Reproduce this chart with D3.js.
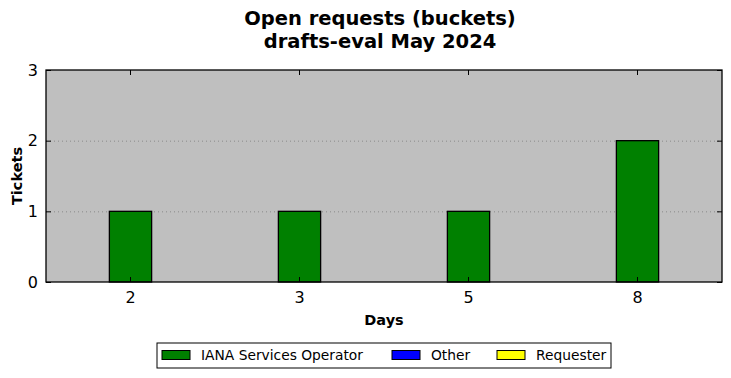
<!DOCTYPE html>
<html>
<head>
<meta charset="utf-8">
<script src="https://cdn.jsdelivr.net/npm/d3@7"></script>
<style>
  body { margin: 0; background: #fff; }
  text { font-family: "DejaVu Sans", sans-serif; }
</style>
</head>
<body>
<script>
// Data
const days = ['2', '3', '5', '8'];
const ianaOperator = [1, 1, 1, 2];
const other = [0, 0, 0, 0];
const requester = [0, 0, 0, 0];
const yTicks = [0, 1, 2, 3];
const seriesNames = ['IANA Services Operator', 'Other', 'Requester'];
const seriesColors = ['#008000', '#0000ff', '#ffff00'];

const width = 731;
const height = 378;
const margin = { top: 70, right: 9, bottom: 96, left: 46 };
const innerWidth = width - margin.left - margin.right;
const innerHeight = height - margin.top - margin.bottom;

const svg = d3.select('body')
  .append('svg')
  .attr('width', width)
  .attr('height', height);

const chart = svg.append('g')
  .attr('transform', `translate(${margin.left}, ${margin.top})`);

const xScale = d3.scaleBand()
  .domain(days)
  .range([0, innerWidth])
  .padding(0);

const yScale = d3.scaleLinear()
  .domain([0, 3])
  .range([innerHeight, 0]);

// Background
chart.append('rect')
  .attr('width', innerWidth)
  .attr('height', innerHeight)
  .attr('fill', '#bfbfbf');

// Grid lines
chart.selectAll('.grid')
  .data(yTicks.slice(1, -1))
  .enter()
  .append('line')
  .attr('x1', 0)
  .attr('x2', innerWidth)
  .attr('y1', d => yScale(d) + 0.5)
  .attr('y2', d => yScale(d) + 0.5)
  .attr('stroke', '#8a8a8a')
  .attr('stroke-width', 1)
  .attr('stroke-dasharray', '1,3');

// Stacked bars
const barWidth = xScale.bandwidth() * 0.25;
const stacks = [ianaOperator, other, requester];
days.forEach((day, i) => {
  let base = 0;
  stacks.forEach((series, s) => {
    const v = series[i];
    if (v > 0) {
      chart.append('rect')
        .attr('x', xScale(day) + xScale.bandwidth() / 2 - barWidth / 2)
        .attr('y', yScale(base + v))
        .attr('width', barWidth)
        .attr('height', yScale(base) - yScale(base + v))
        .attr('fill', seriesColors[s])
        .attr('stroke', '#000')
        .attr('stroke-width', 1.3);
    }
    base += v;
  });
});

// Axes (ticks inward, mirrored)
const xAxis = d3.axisBottom(xScale).tickSizeInner(-5).tickSizeOuter(0).tickPadding(10);
const xAxisTop = d3.axisTop(xScale).tickSizeInner(-5).tickSizeOuter(0);
const yAxis = d3.axisLeft(yScale).tickValues(yTicks).tickSizeInner(-5).tickSizeOuter(0).tickPadding(8).tickFormat(d3.format('d'));
const yAxisRight = d3.axisRight(yScale).tickValues(yTicks).tickSizeInner(-5).tickSizeOuter(0);

chart.append('g').attr('transform', `translate(0, ${innerHeight})`).call(xAxis);
chart.append('g').attr('class', 'mirror').call(xAxisTop);
chart.append('g').call(yAxis);
chart.append('g').attr('class', 'mirror').attr('transform', `translate(${innerWidth}, 0)`).call(yAxisRight);

chart.selectAll('.mirror .tick text').remove();
chart.selectAll('.domain').remove();
chart.selectAll('.tick text')
  .attr('font-size', 16)
  .attr('fill', '#000')
  .attr('font-family', '"DejaVu Sans", sans-serif');
chart.selectAll('.tick line').attr('stroke', '#000');

// Frame
chart.append('rect')
  .attr('width', innerWidth)
  .attr('height', innerHeight)
  .attr('fill', 'none')
  .attr('stroke', '#000')
  .attr('stroke-width', 1.3);

// Title
svg.append('text')
  .attr('x', margin.left + innerWidth / 2 - 4)
  .attr('y', 25)
  .attr('text-anchor', 'middle')
  .attr('font-size', 19.5)
  .attr('font-weight', 'bold')
  .text('Open requests (buckets)');
svg.append('text')
  .attr('x', margin.left + innerWidth / 2 - 4)
  .attr('y', 48)
  .attr('text-anchor', 'middle')
  .attr('font-size', 19.5)
  .attr('font-weight', 'bold')
  .text('drafts-eval May 2024');

// Axis labels
svg.append('text')
  .attr('x', margin.left + innerWidth / 2)
  .attr('y', 325)
  .attr('text-anchor', 'middle')
  .attr('font-size', 14.5)
  .attr('font-weight', 'bold')
  .text('Days');
svg.append('text')
  .attr('transform', `translate(22, ${margin.top + innerHeight / 2}) rotate(-90)`)
  .attr('text-anchor', 'middle')
  .attr('font-size', 14.5)
  .attr('font-weight', 'bold')
  .text('Tickets');

// Legend
const legend = svg.append('g')
  .attr('transform', 'translate(157, 343)');
legend.append('rect')
  .attr('width', 454)
  .attr('height', 25)
  .attr('fill', '#fff')
  .attr('stroke', '#000')
  .attr('stroke-width', 1);
const legendX = [5, 235, 340];
seriesNames.forEach((name, i) => {
  const item = legend.append('g').attr('transform', `translate(${legendX[i]}, 0)`);
  item.append('rect')
    .attr('x', 0)
    .attr('y', 7.5)
    .attr('width', 28)
    .attr('height', 9)
    .attr('fill', seriesColors[i])
    .attr('stroke', '#000')
    .attr('stroke-width', 1);
  item.append('text')
    .attr('x', 39)
    .attr('y', 17)
    .attr('font-size', 13.8)
    .text(name);
});
</script>
</body>
</html>
